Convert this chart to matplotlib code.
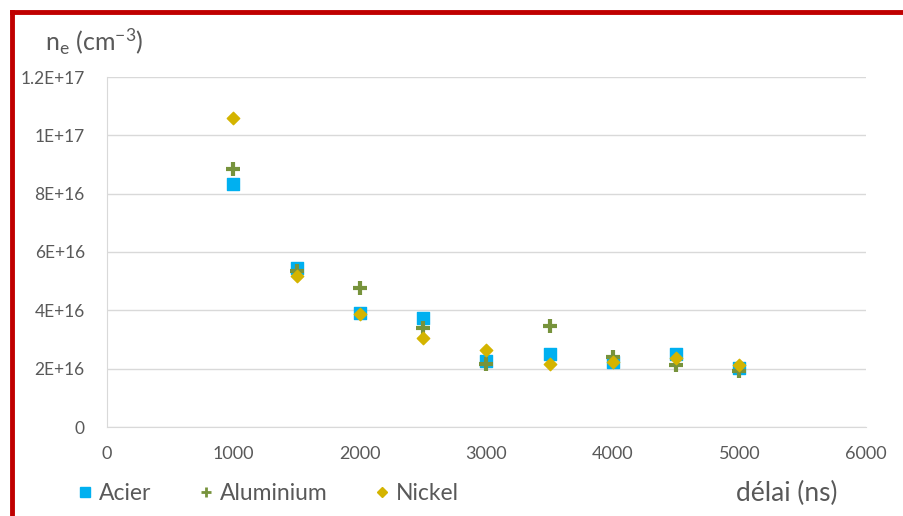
import matplotlib
matplotlib.use("Agg")
import matplotlib.pyplot as plt
from matplotlib.lines import Line2D
from matplotlib.ticker import FixedLocator

plt.rcParams['font.family'] = ['Lato', 'DejaVu Sans']
plt.rcParams['mathtext.fontset'] = 'custom'
plt.rcParams['mathtext.rm'] = 'Lato'
plt.rcParams['mathtext.it'] = 'Lato'

# delay (ns) and electron density (cm^-3)
delai = [1000, 1500, 2000, 2500, 3000, 3500, 4000, 4500, 5000]
acier = [8.34e16, 5.45e16, 3.91e16, 3.74e16, 2.26e16, 2.50e16, 2.22e16, 2.52e16, 2.02e16]
aluminium = [8.85e16, 5.35e16, 4.78e16, 3.40e16, 2.16e16, 3.48e16, 2.40e16, 2.12e16, 1.93e16]
nickel = [1.06e17, 5.18e16, 3.88e16, 3.05e16, 2.64e16, 2.16e16, 2.24e16, 2.35e16, 2.12e16]

yticks = [0, 2e16, 4e16, 6e16, 8e16, 1e17, 1.2e17]
ytick_labels = ['0', '2E+16', '4E+16', '6E+16', '8E+16', '1E+17', '1.2E+17']

c_acier = '#00B0F0'
c_alu = '#77933C'
c_ni = '#D4B400'
grey = '#595959'

fig = plt.figure(figsize=(9.04, 5.16), dpi=100)
ax = fig.add_axes([107 / 904, 89 / 516, 759 / 904, 350 / 516])

ax.scatter(delai, acier, marker='s', s=85, color=c_acier, zorder=3)
ax.plot(delai, aluminium, ls='none', marker='+', ms=10, mew=3, color=c_alu, zorder=4)
ax.scatter(delai, nickel, marker='D', s=40, color=c_ni, zorder=5)

ax.set_xlim(0, 6000)
ax.set_ylim(0, 1.2e17)
ax.set_xticks(range(0, 6001, 1000))
ax.yaxis.set_major_locator(FixedLocator(yticks))
ax.set_yticklabels(ytick_labels)
ax.grid(axis='y', color='#D9D9D9', lw=1)
ax.set_axisbelow(True)
for s in ['top', 'right']:
    ax.spines[s].set_visible(False)
ax.spines['left'].set_color('#D9D9D9')
ax.spines['bottom'].set_color('#D9D9D9')
ax.tick_params(length=0, labelsize=12.5, labelcolor=grey)
ax.tick_params(axis='x', labelsize=13, pad=14)
ax.tick_params(axis='y', pad=16)

fig.text(45 / 904, 1 - 42 / 516, r'n$_\mathrm{e}$ (cm$^{-3}$)', fontsize=18, color=grey,
         va='center', ha='left')
fig.text(838 / 904, 1 - 493 / 516, 'délai (ns)', fontsize=19, color=grey,
         va='center', ha='right')

handles = [
    Line2D([], [], ls='none', marker='s', ms=7, color=c_acier),
    Line2D([], [], ls='none', marker='+', ms=7, mew=2, color=c_alu),
    Line2D([], [], ls='none', marker='D', ms=5, color=c_ni),
]
fig.legend(handles, ['Acier', 'Aluminium', 'Nickel'], loc='center left',
           bbox_to_anchor=(55 / 904, 1 - 494 / 516), ncol=3, frameon=False,
           fontsize=16.5, labelcolor=grey, handlelength=0.8, handletextpad=0.2,
           columnspacing=2.0)

# red frame on the left and top
fig.add_artist(Line2D([12 / 904, 12 / 904], [0, 1 - 12 / 516], color='#C00000', lw=3.5,
                      transform=fig.transFigure))
fig.add_artist(Line2D([12 / 904, 1], [1 - 12 / 516, 1 - 12 / 516], color='#C00000', lw=3.5,
                      transform=fig.transFigure))

fig.savefig('out.png', dpi=100)
